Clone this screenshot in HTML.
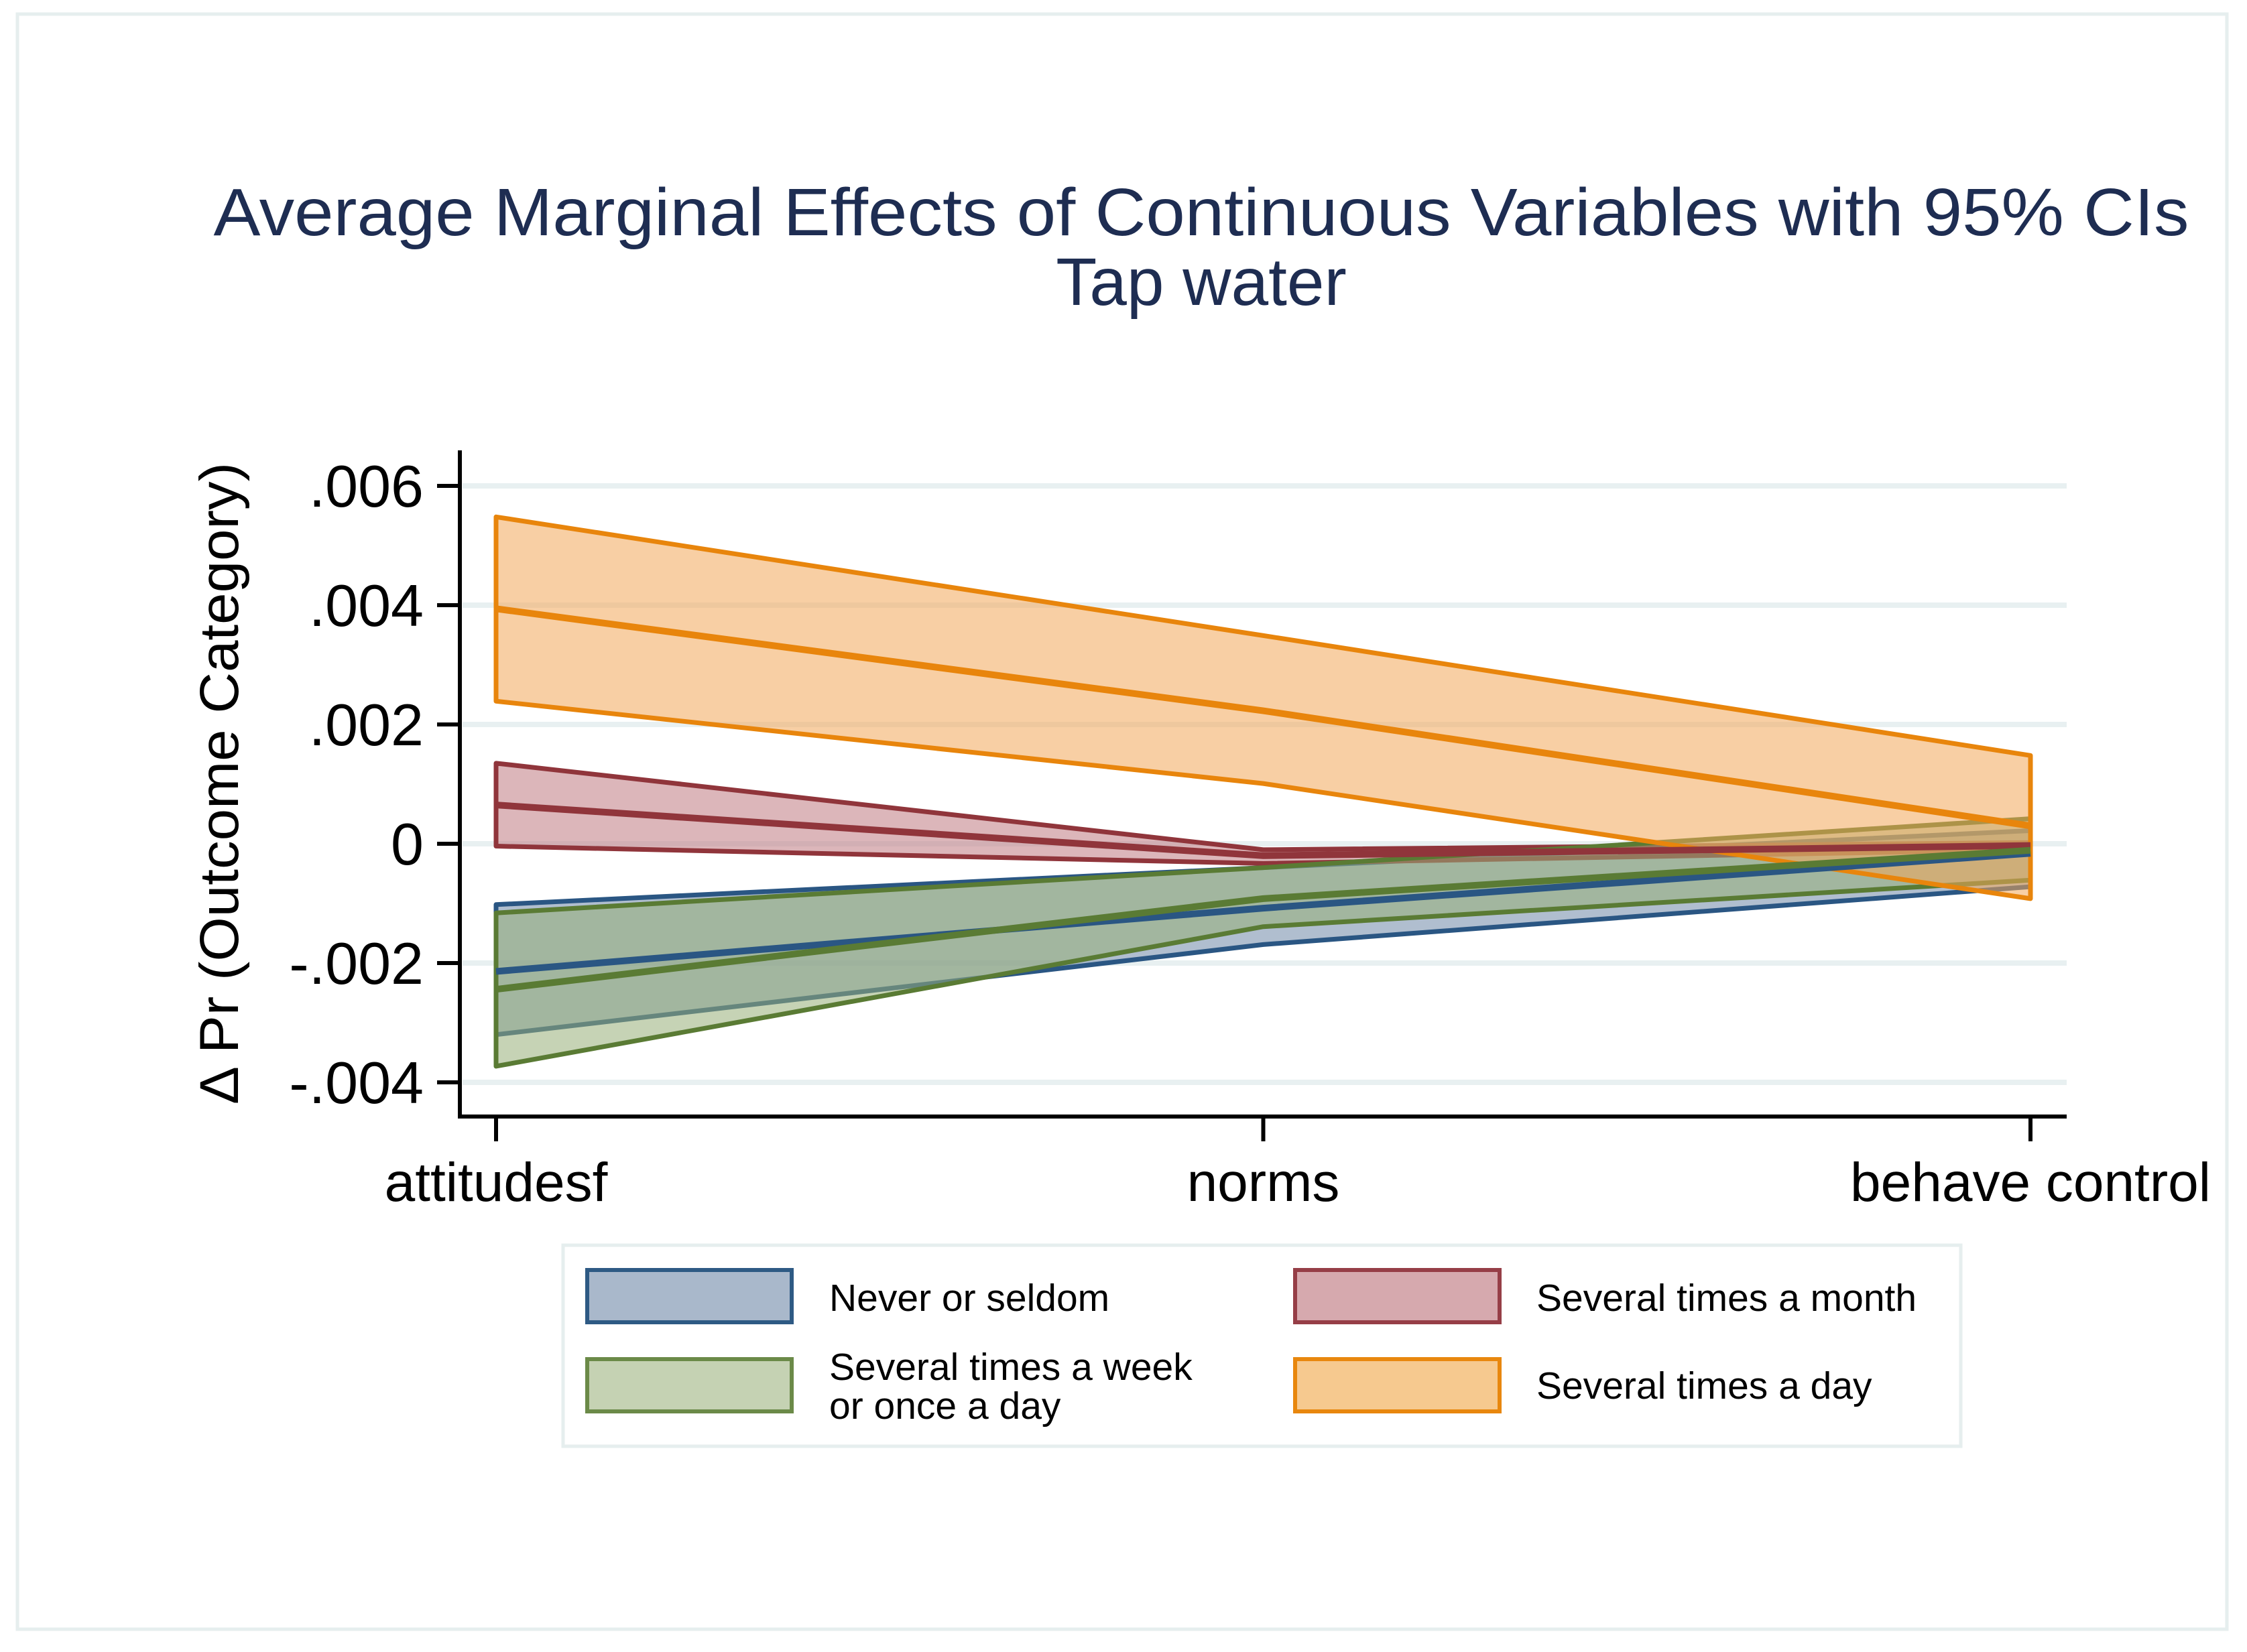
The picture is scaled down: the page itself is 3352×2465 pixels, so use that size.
<!DOCTYPE html>
<html><head><meta charset="utf-8"><style>
html,body{margin:0;padding:0;background:#fff;}
svg{display:block;font-family:"Liberation Sans",Arial,sans-serif;}
</style></head><body>
<svg id="chart" width="3352" height="2465" viewBox="0 0 3352 2465" xmlns="http://www.w3.org/2000/svg">
<rect x="0" y="0" width="3352" height="2465" fill="#fff"/>
<rect x="26" y="21" width="3296" height="2410" fill="none" stroke="#e6eeee" stroke-width="5"/>
<text x="1792" y="351" font-size="100" fill="#1e2d52" text-anchor="middle" textLength="2947" lengthAdjust="spacingAndGlyphs">Average Marginal Effects of Continuous Variables with 95% CIs</text>
<text x="1792" y="455" font-size="100" fill="#1e2d52" text-anchor="middle">Tap water</text>
<g id="grid"></g>
<g id="bands"></g>
<g id="lines"></g>
<g id="axes"></g>
<text transform="translate(355,1169) rotate(-90)" font-size="82" text-anchor="middle" textLength="958" lengthAdjust="spacingAndGlyphs">Δ Pr (Outcome Category)</text>
<g>
<rect x="840" y="1858" width="2085" height="300" fill="#fff" stroke="#e6eeee" stroke-width="5"/>
<rect x="876" y="1895" width="305" height="78" fill="#a9b8cb" stroke="#2e5a84" stroke-width="6"/>
<text x="1237" y="1956" font-size="57">Never or seldom</text>
<rect x="876" y="2028" width="305" height="78" fill="#c5d2b3" stroke="#6b8a48" stroke-width="6"/>
<text x="1237" y="2059" font-size="57">Several times a week</text>
<text x="1237" y="2117" font-size="57">or once a day</text>
<rect x="1932" y="1895" width="305" height="78" fill="#d6a9ae" stroke="#963e47" stroke-width="6"/>
<text x="2292" y="1956" font-size="57">Several times a month</text>
<rect x="1932" y="2028" width="305" height="78" fill="#f6c98f" stroke="#e8870e" stroke-width="6"/>
<text x="2292" y="2087" font-size="57">Several times a day</text>
</g>
</svg>
<script>
const categories = ["attitudesf", "norms", "behave control"];
const yTicks = [0.006, 0.004, 0.002, 0, -0.002, -0.004];
const yTickLabels = [".006", ".004", ".002", "0", "-.002", "-.004"];
const neverMean = [-0.00214, -0.00108, -0.00016];
const neverLo = [-0.0032, -0.00169, -0.00072];
const neverHi = [-0.00102, -0.0004, 0.00022];
const monthMean = [0.00065, -0.0002, -0.00003];
const monthLo = [-0.00004, -0.00033, -0.0001];
const monthHi = [0.00135, -0.0001, 0.00002];
const weekMean = [-0.00244, -0.00092, -0.00011];
const weekLo = [-0.00373, -0.00139, -0.00061];
const weekHi = [-0.00116, -0.0004, 0.00042];
const dayMean = [0.00394, 0.00223, 0.0003];
const dayLo = [0.00239, 0.00101, -0.00092];
const dayHi = [0.00548, 0.00349, 0.00148];

const NS = "http://www.w3.org/2000/svg";
function xs(i){ return 740 + i * (3029 - 740) / (categories.length - 1); }
function ys(v){ return 1259 - v * (178 / 0.002); }
function mk(tag, attrs, parent){
  const e = document.createElementNS(NS, tag);
  for (const k in attrs) e.setAttribute(k, attrs[k]);
  parent.appendChild(e);
  return e;
}
const grid = document.getElementById('grid');
const axes = document.getElementById('axes');
const bands = document.getElementById('bands');
const lines = document.getElementById('lines');

yTicks.forEach((t, i) => {
  const g = mk('line', {x1: 690, x2: 3083, y1: ys(t), y2: ys(t), stroke: '#e8f0f1', 'stroke-width': 8}, grid);
  
  
  const tk = mk('line', {x1: 652, x2: 688, y1: ys(t), y2: ys(t), stroke: '#000', 'stroke-width': 6}, axes);
  
  
  const lb = mk('text', {x: 632, y: ys(t) + 31, 'font-size': 88, 'text-anchor': 'end'}, axes);
  
  
  lb.textContent = yTickLabels[i];
});
const ya = mk('line', {x1: 686, x2: 686, y1: 672, y2: 1669, stroke: '#000', 'stroke-width': 6}, axes);


const xa = mk('line', {x1: 683, x2: 3083, y1: 1666, y2: 1666, stroke: '#000', 'stroke-width': 6}, axes);


categories.forEach((c, i) => {
  const tk = mk('line', {x1: xs(i), x2: xs(i), y1: 1666, y2: 1703, stroke: '#000', 'stroke-width': 6}, axes);
  
  
  const lb = mk('text', {x: xs(i), y: 1792, 'font-size': 82, 'text-anchor': 'middle'}, axes);
  
  
  lb.textContent = c;
});

function series(name, lo, hi, mean, line, fill){
  let d = '';
  lo.forEach((v, i) => { d += (i ? 'L' : 'M') + xs(i) + ',' + ys(v); });
  for (let i = hi.length - 1; i >= 0; i--) d += 'L' + xs(i) + ',' + ys(hi[i]);
  d += 'Z';
  const b = mk('path', {d: d, fill: fill, 'fill-opacity': 0.55, stroke: line, 'stroke-width': 7, 'stroke-linejoin': 'round'}, bands);
  
  
  const pts = mean.map((v, i) => xs(i) + ',' + ys(v)).join(' ');
  const l = mk('polyline', {points: pts, fill: 'none', stroke: line, 'stroke-width': 10, 'stroke-linejoin': 'round'}, lines);
  
  
}
series('never', neverLo, neverHi, neverMean, '#2a5683', '#6f89a8');
series('month', monthLo, monthHi, monthMean, '#90353b', '#c07a82');
series('week', weekLo, weekHi, weekMean, '#5a7b34', '#98ae78');
series('day', dayLo, dayHi, dayMean, '#e8850c', '#f2a85a');
</script>
</body></html>
